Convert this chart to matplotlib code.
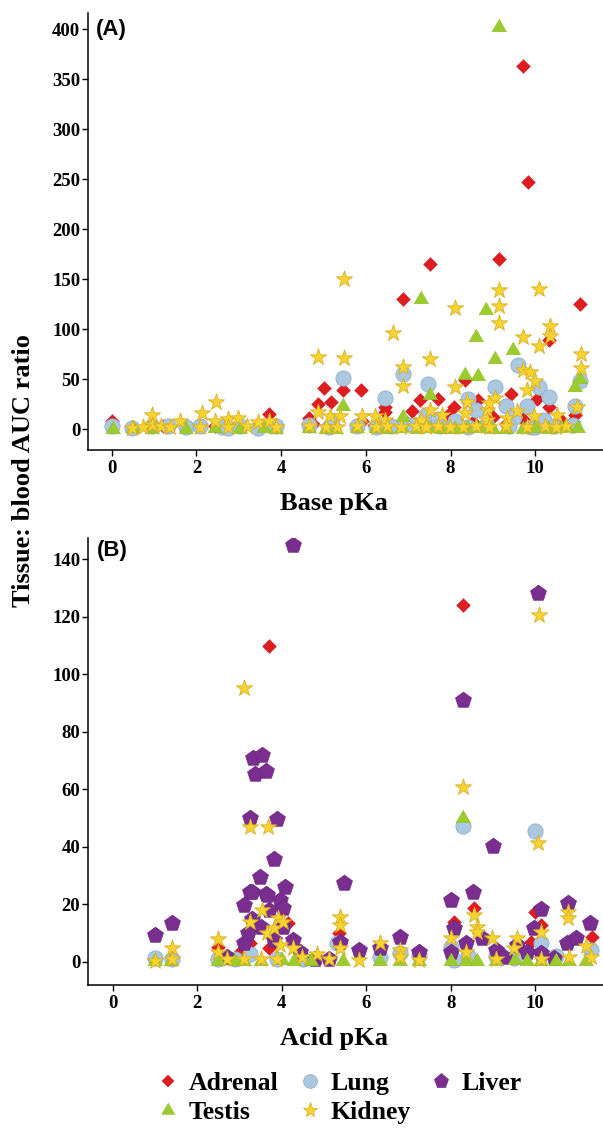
import matplotlib
matplotlib.use("Agg")
import matplotlib.pyplot as plt
from matplotlib.lines import Line2D

plt.rcParams['font.family'] = ['Liberation Serif', 'DejaVu Serif']
plt.rcParams['font.weight'] = 'bold'

# ---------------- Panel A : Base pKa ----------------
base_adrenal_x = [9.72, 9.82, 9.14, 7.52, 6.87, 11.06, 10.33, 5.02, 5.47, 5.88, 8.33, 10.04, 10.33, 10.94,
                  4.86, 5.18, 4.65, 6.45, 6.45, 7.27, 7.71, 8.08, 8.65, 9.43, 8.53, 3.71, 0.01, 7.1, 7.95,
                  9.0, 9.7, 10.6, 5.9, 4.75, 6.9, 9.3, 10.9, 7.6, 2.45, 1.2, 3.9, 6.2, 8.2, 10.2]
base_adrenal_y = [363, 247, 170, 165, 130, 125, 89, 41, 39.5, 39.5, 49, 30, 22, 14.5,
                  24.6, 27, 11, 22, 17, 29, 30, 22, 29, 35, 7, 15, 8, 18, 14,
                  12, 10, 9, 8, 5, 6, 5, 8, 6, 3, 3, 4, 4, 4, 5]

base_testis_x = [9.14, 7.31, 8.83, 8.61, 9.47, 9.06, 8.33, 8.64, 11.06, 10.94, 5.47, 6.88, 7.51, 10.73,
                 0.02, 0.5, 0.95, 1.75, 2.43, 3.03, 3.6, 3.88, 4.65, 5.06, 5.3, 5.8, 6.24, 6.5, 6.85,
                 7.2, 7.5, 7.8, 8.1, 8.4, 8.7, 9.0, 9.31, 9.71, 10.0, 10.33, 10.6, 11.0]
base_testis_y = [402, 130, 119.5, 92, 79, 70, 54, 53, 50, 42, 23, 12, 34, 3.4,
                 0.5, 1.0, 0.3, 0.5, 1.2, 0.4, 0.8, 0.3, 1.0, 0.5, 0.2, 0.6, 0.9, 0.3, 0.7,
                 0.4, 1.1, 0.5, 0.3, 0.8, 0.6, 0.2, 0.5, 0.4, 0.9, 0.3, 1.0, 0.6]

base_lung_x = [9.6, 5.47, 6.88, 7.47, 11.06, 9.05, 10.08, 10.33, 6.45, 8.42, 9.32, 9.8, 10.94, 8.61,
               7.43, 8.86, 10.0, 7.7, 8.1, 9.5, 10.2, 6.9, 5.2,
               0.0, 0.47, 0.94, 1.33, 1.75, 2.08, 2.6, 2.75, 3.03, 3.46, 3.88, 4.65, 5.14, 5.8, 6.24,
               6.6, 7.14, 7.76, 8.42, 9.39, 9.9, 10.45, 10.9]
base_lung_y = [64, 51, 55, 45.5, 48, 42, 42, 32, 31, 30.5, 23, 23, 23, 19,
               14, 4.4, 2.4, 10, 8, 12, 9, 6, 5,
               3, 1.5, 3, 3, 2.5, 3, 2, 1.5, 3, 1.5, 3.5, 4, 2.5, 3, 2,
               3, 4, 3, 2, 3, 2.5, 3, 4]

base_kidney_x = [5.48, 4.88, 5.48, 6.65, 6.88, 6.88, 7.52, 8.1, 9.14, 10.1, 9.14, 9.14, 9.72, 10.1,
                 10.35, 10.35, 11.09, 11.09, 9.72, 9.88, 10.0, 9.8, 10.99, 8.1, 4.88, 5.15, 5.39, 5.9,
                 6.22, 6.45, 9.05, 8.86, 8.35, 7.52, 7.79, 8.86, 9.33, 9.57, 9.96, 10.51, 0.94, 1.61,
                 2.12, 2.46, 2.43, 2.75, 2.99, 3.46, 3.72, 0.94, 8.4, 8.9, 7.3,
                 0.47, 0.74, 1.17, 1.37, 2.08, 2.75, 3.2, 3.88, 4.65, 5.06, 5.31, 5.8, 6.24, 6.49, 6.82,
                 7.18, 7.43, 7.71, 7.98, 8.29, 8.61, 8.9, 9.31, 9.8, 10.24, 10.49, 10.73]
base_kidney_y = [150, 72, 71, 96, 62, 43, 70, 121, 139, 140, 123, 106, 92, 83.5,
                 103, 93.5, 75, 61, 59, 57, 48, 39.5, 22, 42, 17, 13, 13, 13,
                 13, 9.5, 31, 19.5, 16, 19.5, 14.5, 9.5, 11, 18, 13, 14.5, 14.5, 8,
                 16, 27, 8, 10, 11, 7, 8, 4.5, 27, 26, 9,
                 1.5, 2, 3, 2, 2, 2.5, 3, 2, 3, 2, 2.5, 3, 2, 3, 2,
                 3, 2.5, 3, 2, 2.5, 3, 2, 3, 2.5, 3, 2, 3]

# ---------------- Panel B : Acid pKa ----------------
acid_adrenal_x = [3.69, 8.28, 2.5, 3.25, 4.16, 5.35, 8.07, 8.55, 10.0, 10.13, 11.35, 6.81, 9.9, 3.7,
                  8.4, 10.5, 3.0]
acid_adrenal_y = [110, 124, 5.3, 6.5, 13.5, 10, 14, 18.7, 17.5, 12.9, 8.8, 3, 7, 5,
                  2, 2, 3]

acid_lung_x = [1.0, 1.4, 2.5, 3.25, 5.35, 5.31, 6.33, 6.81, 7.24, 8.0, 8.07, 8.29, 9.99, 10.13,
               11.31, 8.4, 9.06, 9.5, 10.5, 3.9, 4.5, 2.9]
acid_lung_y = [1.3, 1.0, 1.0, 2.8, 6.5, 6.5, 1.6, 3, 2.5, 5.3, 0.7, 47.2, 45.5, 6.5,
               4.2, 2, 2, 1.5, 2, 1, 1, 1]

acid_liver_x = [4.26, 10.06, 8.28, 3.33, 3.54, 3.36, 3.64, 3.25, 3.9, 3.81, 3.49, 3.25, 4.09, 3.63,
                5.48, 8.99, 8.53, 8.0, 1.0, 1.41, 2.7, 3.1, 3.1, 3.29, 3.66, 3.96, 4.04, 4.04, 3.81,
                4.28, 4.44, 4.8, 5.11, 5.39, 5.82, 6.33, 6.81, 7.24, 8.07, 8.0, 8.35, 8.74, 9.06,
                9.26, 9.57, 9.81, 9.97, 10.14, 10.13, 10.44, 10.77, 10.76, 10.95, 11.29, 3.3, 3.5,
                3.7, 3.2]
acid_liver_y = [145, 128.3, 91, 71, 71.8, 65.2, 66.3, 50.1, 49.8, 35.9, 29.6, 24.3, 26.1, 23.5,
                27.5, 40.3, 24.4, 21.7, 9.4, 13.5, 1.9, 6.5, 19.8, 24.5, 23.3, 21.6, 12.3, 18.7, 7.7,
                7.7, 3.6, 1, 1, 7.1, 4.2, 4.7, 8.8, 3.6, 11.7, 3.6, 6.5, 8.2, 4.2,
                1.9, 6, 3.6, 11.7, 18.3, 3, 1.3, 20.4, 6.5, 8.2, 13.5, 15, 12,
                18, 10]

acid_testis_x = [8.29, 1.0, 1.38, 2.5, 2.9, 3.1, 3.5, 4.0, 4.3, 4.7, 5.46, 6.33, 6.81, 7.24, 8.0,
                 8.35, 8.63, 9.06, 9.53, 9.81, 10.13, 10.5, 10.8, 11.19]
acid_testis_y = [50, 0.5, 0.5, 0.5, 0.3, 0.5, 0.5, 0.7, 0.3, 0.3, 0.3, 0.5, 0.5, 0.5, 0.5,
                 0.3, 0.3, 0.3, 0.7, 0.5, 0.3, 0.3, 0.3, 0.3]

acid_kidney_x = [3.12, 10.08, 8.29, 3.25, 3.68, 10.07, 1.0, 1.4, 1.4, 2.5, 2.5, 3.25, 3.53, 3.65,
                 3.81, 3.92, 4.04, 3.96, 4.28, 4.49, 4.83, 5.11, 5.39, 5.39, 5.39, 5.82, 6.33, 6.81,
                 6.81, 7.24, 8.0, 8.55, 8.63, 8.63, 8.35, 8.98, 9.06, 9.57, 10.14, 10.13, 10.77,
                 10.77, 10.79, 11.19, 11.31, 3.1, 3.5, 3.9, 2.7, 9.5]
acid_kidney_y = [95.4, 120.7, 61, 47, 47, 41.4, 0.5, 4.7, 1, 7.9, 3.6, 14, 18.1, 10,
                 11.7, 15.2, 14, 5.9, 4.7, 1.7, 2.9, 1, 15.8, 12.9, 4.7, 0.7, 6.5, 4.2,
                 1.9, 0.7, 8.3, 16.3, 12.3, 10.5, 3.6, 8.2, 1.2, 8.2, 10.5, 1.2, 17.5,
                 15.2, 1.7, 5.5, 1.9, 1, 1, 1, 1, 5]

base_ticks = [0, 2, 4, 6, 8, 10]
base_yticks = [0, 50, 100, 150, 200, 250, 300, 350, 400]
acid_ticks = [0, 2, 4, 6, 8, 10]
acid_yticks = [0, 20, 40, 60, 80, 100, 120, 140]

tissues = ['Adrenal', 'Lung', 'Liver', 'Testis', 'Kidney']

tri = [(0, 1), (-0.866, -0.5), (0.866, -0.5)]
STY = {
    'Adrenal': dict(marker='D', s=50, c='#df1c20', edgecolors='#d01a1e', linewidths=0.3),
    'Lung':    dict(marker='o', s=120, c='#abc8e1', edgecolors='#93afc8', linewidths=0.6),
    'Liver':   dict(marker='p', s=145, c='#7a2e90', edgecolors='#6b2880', linewidths=0.5),
    'Testis':  dict(marker=tri, s=150, c='#9bcb2d', edgecolors='#8dbb28', linewidths=0.4),
    'Kidney':  dict(marker='*', s=150, c='#f7d52c', edgecolors='#d8ac28', linewidths=0.6),
}

W, H = 603, 1128
fig = plt.figure(figsize=(W / 100, H / 100), dpi=100)
axA = fig.add_axes([88 / W, 1 - 450 / H, 515 / W, 437 / H])
axB = fig.add_axes([88 / W, 1 - 985 / H, 515 / W, 447 / H])

dataA = {'Adrenal': (base_adrenal_x, base_adrenal_y),
         'Lung': (base_lung_x, base_lung_y),
         'Testis': (base_testis_x, base_testis_y),
         'Kidney': (base_kidney_x, base_kidney_y)}
dataB = {'Adrenal': (acid_adrenal_x, acid_adrenal_y),
         'Lung': (acid_lung_x, acid_lung_y),
         'Liver': (acid_liver_x, acid_liver_y),
         'Testis': (acid_testis_x, acid_testis_y),
         'Kidney': (acid_kidney_x, acid_kidney_y)}

for ax, data in ((axA, dataA), (axB, dataB)):
    for t in tissues:
        if t in data:
            x, y = data[t]
            ax.scatter(x, y, zorder=3, **STY[t])
    for side in ('top', 'right'):
        ax.spines[side].set_visible(False)
    for side in ('left', 'bottom'):
        ax.spines[side].set_linewidth(1.1)
    ax.tick_params(axis='both', direction='out', length=4, width=1.0, labelsize=13.5)
    ax.tick_params(axis='y', pad=1.5)
    ax.tick_params(axis='x', pad=3)
    for lab in ax.get_xticklabels() + ax.get_yticklabels():
        lab.set_fontweight('bold')

axA.set_xlim(-0.56, 11.6)
axA.set_ylim(-21, 416.5)
axA.set_xticks(base_ticks)
axA.set_yticks(base_yticks)
axB.set_xlim(-0.58, 11.6)
axB.set_ylim(-8, 147.4)
axB.set_xticks(acid_ticks)
axB.set_yticks(acid_yticks)

fig.text(96 / W, 1 - 30 / H, '(A)', ha='left', va='center', fontsize=16,
         family=['Liberation Sans', 'DejaVu Sans'], weight='bold')
fig.text(97 / W, 1 - 551 / H, '(B)', ha='left', va='center', fontsize=16,
         family=['Liberation Sans', 'DejaVu Sans'], weight='bold')

fig.text(334 / W, 1 - 510 / H, 'Base pKa', ha='center', va='baseline', fontsize=19, weight='bold')
fig.text(334 / W, 1 - 1045 / H, 'Acid pKa', ha='center', va='baseline', fontsize=19, weight='bold')
fig.text(24 / W, 1 - 471 / H, 'Tissue: blood AUC ratio', rotation=90, ha='center', va='center',
         fontsize=19, weight='bold')

order = ['Adrenal', 'Testis', 'Lung', 'Kidney', 'Liver']
handles = []
for t in order:
    st = STY[t]
    ms = (st['s'] ** 0.5) * 0.9
    handles.append(Line2D([], [], linestyle='none', marker=st['marker'], markersize=ms,
                          markerfacecolor=st['c'], markeredgecolor=st['edgecolors'],
                          markeredgewidth=st['linewidths'], label=t))
fig.legend(handles=handles, loc='center', bbox_to_anchor=(340 / W, 1 - 1098 / H), ncol=3,
           frameon=False, handlelength=0.8, handletextpad=0.4,
           columnspacing=0.8, labelspacing=0.2, borderpad=0.0,
           prop={'family': ['Liberation Serif'], 'weight': 'bold', 'size': 18.5})

fig.savefig('out.png', dpi=100)
